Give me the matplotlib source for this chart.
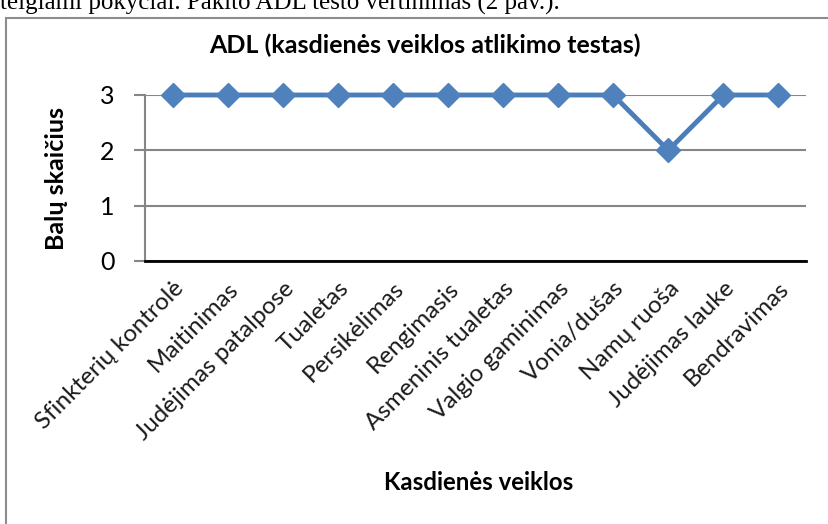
import matplotlib
matplotlib.use("Agg")
import matplotlib.pyplot as plt
from matplotlib.patches import Rectangle

categories = [
    "Sfinkterių kontrolė", "Maitinimas", "Judėjimas patalpose", "Tualetas",
    "Persikėlimas", "Rengimasis", "Asmeninis tualetas", "Valgio gaminimas",
    "Vonia/dušas", "Namų ruoša", "Judėjimas lauke", "Bendravimas",
]
scores = [3, 3, 3, 3, 3, 3, 3, 3, 3, 2, 3, 3]
y_ticks = [0, 1, 2, 3]

title = "ADL (kasdienės veiklos atlikimo testas)"
x_label = "Kasdienės veiklos"
y_label = "Balų skaičius"
caption = "teigiami pokyčiai. Pakito ADL testo vertinimas (2 pav.)."

FONT = "Lato"
W, H = 829, 524
fig = plt.figure(figsize=(W / 100, H / 100), dpi=100)
fig.patch.set_facecolor("white")

# preceding line of body text
fig.text(0.0, 1 - 10 / H, caption, family="Liberation Serif", fontsize=18,
         ha="left", va="baseline", color="black")

# chart frame
frame = Rectangle((6.5 / W, -0.2), 1.0, 1.2 - 17.5 / H, transform=fig.transFigure,
                  fill=False, edgecolor="#8c8c8c", linewidth=1.5)
fig.add_artist(frame)

left, right, top, bottom = 145 / W, 806 / W, 95 / H, 261 / H
ax = fig.add_axes([left, 1 - bottom, right - left, bottom - top])

x = list(range(len(categories)))
ax.plot(x, scores, color="#4A7EBB", linewidth=3.5, marker="D", markersize=12,
        markerfacecolor="#4F81BD", markeredgecolor="#4F81BD", zorder=3, clip_on=False)

ax.set_xlim(-0.5, len(categories) - 0.5)
ax.set_ylim(0, 3)
ax.set_yticks(y_ticks)
ax.set_yticklabels([str(v) for v in y_ticks], family=FONT, fontsize=18)
ax.set_xticks(x)
ax.set_xticklabels(categories, rotation=45, ha="right", va="top",
                   rotation_mode="anchor", family=FONT, fontsize=17.5, color="#1a1a1a")

ax.yaxis.grid(True, color="#868686", linewidth=1.5)
ax.set_axisbelow(True)
for s in ("top", "right"):
    ax.spines[s].set_visible(False)
ax.spines["left"].set_color("#868686")
ax.spines["left"].set_linewidth(1.5)
ax.spines["bottom"].set_color("black")
ax.spines["bottom"].set_linewidth(2)
ax.spines["bottom"].set_zorder(4)
ax.tick_params(axis="y", length=8, width=1.5, color="#868686", pad=14)
ax.tick_params(axis="x", length=0, pad=12)

fig.text(425 / W, 1 - 45 / H, title, family=FONT, fontsize=18,
         fontweight="bold", ha="center", va="center")
fig.text(479 / W, 1 - 482 / H, x_label, family=FONT, fontsize=17.3,
         fontweight="bold", ha="center", va="center")
fig.text(57 / W, 1 - 178 / H, y_label, family=FONT, fontsize=18,
         fontweight="bold", ha="center", va="center", rotation=90)

fig.savefig("out.png", dpi=100, facecolor="white")
